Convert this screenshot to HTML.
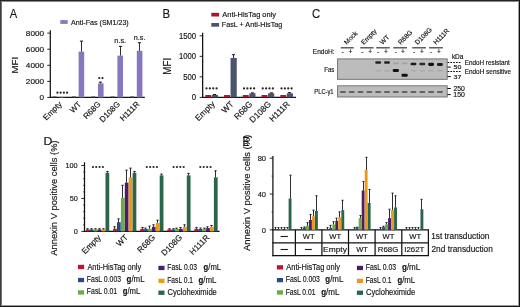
<!DOCTYPE html>
<html><head><meta charset="utf-8"><style>
html,body{margin:0;padding:0;background:#fff;}
#f{position:relative;width:520px;height:307px;overflow:hidden;background:#fff;}
svg{position:absolute;left:0;top:0;will-change:transform;}
text{font-family:"Liberation Sans", sans-serif;fill:#151515;stroke:#151515;stroke-width:0.16px;}
</style></head><body><div id="f">
<svg width="520" height="307" viewBox="0 0 520 307">
<text x="9.80" y="18.20" font-size="12.75" textLength="7.42" lengthAdjust="spacingAndGlyphs">A</text>
<rect x="60.30" y="20.10" width="7.40" height="3.80" fill="#8878c2"/>
<text x="71.10" y="24.90" font-size="7.39" textLength="57.65" lengthAdjust="spacingAndGlyphs">Anti-Fas (SM1/23)</text>
<line x1="50.30" y1="30.20" x2="50.30" y2="98.05" stroke="#111" stroke-width="1.25"/>
<line x1="49.70" y1="97.45" x2="144.80" y2="97.45" stroke="#111" stroke-width="1.25"/>
<line x1="47.30" y1="33.10" x2="50.30" y2="33.10" stroke="#111" stroke-width="0.9"/>
<text x="44.08" y="35.68" font-size="7.46" text-anchor="end" textLength="18.20" lengthAdjust="spacingAndGlyphs">8000</text>
<line x1="47.30" y1="49.19" x2="50.30" y2="49.19" stroke="#111" stroke-width="0.9"/>
<text x="44.08" y="51.76" font-size="7.46" text-anchor="end" textLength="18.20" lengthAdjust="spacingAndGlyphs">6000</text>
<line x1="47.30" y1="65.28" x2="50.30" y2="65.28" stroke="#111" stroke-width="0.9"/>
<text x="44.08" y="67.85" font-size="7.46" text-anchor="end" textLength="18.20" lengthAdjust="spacingAndGlyphs">4000</text>
<line x1="47.30" y1="81.36" x2="50.30" y2="81.36" stroke="#111" stroke-width="0.9"/>
<text x="44.08" y="83.94" font-size="7.46" text-anchor="end" textLength="18.20" lengthAdjust="spacingAndGlyphs">2000</text>
<line x1="47.30" y1="97.45" x2="50.30" y2="97.45" stroke="#111" stroke-width="0.9"/>
<text x="44.10" y="100.03" font-size="7.46" text-anchor="end" textLength="4.55" lengthAdjust="spacingAndGlyphs">0</text>
<text x="17.70" y="73.48" font-size="9.57" textLength="16.77" lengthAdjust="spacingAndGlyphs" transform="rotate(-90 17.70 73.48)">MFI</text>
<rect x="52.50" y="96.45" width="4.00" height="1.00" fill="#444"/>
<rect x="59.20" y="96.85" width="5.60" height="0.60" fill="#8777c1"/>
<text x="62.40" y="104.70" font-size="8.00" text-anchor="end" transform="rotate(-45 62.40 104.70)">Empty</text>
<rect x="71.90" y="96.45" width="4.00" height="1.00" fill="#444"/>
<rect x="78.60" y="51.60" width="5.60" height="45.85" fill="#8777c1"/>
<line x1="81.50" y1="51.60" x2="81.50" y2="41.14" stroke="#161616" stroke-width="0.9"/>
<line x1="79.90" y1="41.14" x2="83.10" y2="41.14" stroke="#161616" stroke-width="1.0"/>
<text x="81.80" y="104.70" font-size="8.00" text-anchor="end" transform="rotate(-45 81.80 104.70)">WT</text>
<rect x="91.30" y="96.45" width="4.00" height="1.00" fill="#444"/>
<rect x="98.00" y="83.37" width="5.60" height="14.08" fill="#8777c1"/>
<line x1="100.50" y1="83.37" x2="100.50" y2="82.17" stroke="#161616" stroke-width="0.9"/>
<line x1="98.90" y1="82.17" x2="102.10" y2="82.17" stroke="#161616" stroke-width="1.0"/>
<text x="101.20" y="104.70" font-size="8.00" text-anchor="end" transform="rotate(-45 101.20 104.70)">R68G</text>
<rect x="110.70" y="96.45" width="4.00" height="1.00" fill="#444"/>
<rect x="117.40" y="55.62" width="5.60" height="41.83" fill="#8777c1"/>
<line x1="120.50" y1="55.62" x2="120.50" y2="46.37" stroke="#161616" stroke-width="0.9"/>
<line x1="118.90" y1="46.37" x2="122.10" y2="46.37" stroke="#161616" stroke-width="1.0"/>
<text x="120.60" y="104.70" font-size="8.00" text-anchor="end" transform="rotate(-45 120.60 104.70)">D108G</text>
<rect x="130.10" y="96.45" width="4.00" height="1.00" fill="#444"/>
<rect x="136.80" y="50.80" width="5.60" height="46.65" fill="#8777c1"/>
<line x1="139.50" y1="50.80" x2="139.50" y2="42.75" stroke="#161616" stroke-width="0.9"/>
<line x1="137.90" y1="42.75" x2="141.10" y2="42.75" stroke="#161616" stroke-width="1.0"/>
<text x="140.00" y="104.70" font-size="8.00" text-anchor="end" transform="rotate(-45 140.00 104.70)">H111R</text>
<circle cx="57.40" cy="92.65" r="1.1" fill="#262626"/>
<circle cx="60.63" cy="92.65" r="1.1" fill="#262626"/>
<circle cx="63.87" cy="92.65" r="1.1" fill="#262626"/>
<circle cx="67.10" cy="92.65" r="1.1" fill="#262626"/>
<circle cx="99.30" cy="78.10" r="1.1" fill="#262626"/>
<circle cx="102.50" cy="78.10" r="1.1" fill="#262626"/>
<text x="114.32" y="42.93" font-size="7.45" textLength="11.85" lengthAdjust="spacingAndGlyphs">n.s.</text>
<text x="133.83" y="40.12" font-size="7.82" textLength="11.63" lengthAdjust="spacingAndGlyphs">n.s.</text>
<text x="162.39" y="18.00" font-size="12.17" textLength="7.61" lengthAdjust="spacingAndGlyphs">B</text>
<rect x="211.30" y="12.80" width="7.80" height="3.70" fill="#b0122e"/>
<text x="222.30" y="16.90" font-size="7.25" textLength="53.70" lengthAdjust="spacingAndGlyphs">Anti-HisTag only</text>
<rect x="211.30" y="23.00" width="7.80" height="3.70" fill="#4b546e"/>
<text x="221.72" y="27.10" font-size="7.25" textLength="60.57" lengthAdjust="spacingAndGlyphs">FasL + Anti-HisTag</text>
<line x1="202.65" y1="32.80" x2="202.65" y2="98.00" stroke="#111" stroke-width="1.25"/>
<line x1="202.05" y1="97.40" x2="296.00" y2="97.40" stroke="#111" stroke-width="1.25"/>
<line x1="199.65" y1="35.80" x2="202.65" y2="35.80" stroke="#111" stroke-width="0.9"/>
<text x="196.07" y="38.62" font-size="8.17" text-anchor="end" textLength="17.15" lengthAdjust="spacingAndGlyphs">1500</text>
<line x1="199.65" y1="56.33" x2="202.65" y2="56.33" stroke="#111" stroke-width="0.9"/>
<text x="196.07" y="59.15" font-size="8.17" text-anchor="end" textLength="17.15" lengthAdjust="spacingAndGlyphs">1000</text>
<line x1="199.65" y1="76.87" x2="202.65" y2="76.87" stroke="#111" stroke-width="0.9"/>
<text x="196.10" y="79.68" font-size="8.17" text-anchor="end" textLength="12.86" lengthAdjust="spacingAndGlyphs">500</text>
<line x1="199.65" y1="97.40" x2="202.65" y2="97.40" stroke="#111" stroke-width="0.9"/>
<text x="196.08" y="100.22" font-size="8.17" text-anchor="end" textLength="4.29" lengthAdjust="spacingAndGlyphs">0</text>
<text x="170.60" y="74.68" font-size="10.29" textLength="16.88" lengthAdjust="spacingAndGlyphs" transform="rotate(-90 170.60 74.68)">MFI</text>
<rect x="205.30" y="95.00" width="5.90" height="2.40" fill="#b3112f"/>
<rect x="211.80" y="94.94" width="6.20" height="2.46" fill="#4b546e"/>
<line x1="214.50" y1="94.94" x2="214.50" y2="94.53" stroke="#161616" stroke-width="0.9"/>
<line x1="212.90" y1="94.53" x2="216.10" y2="94.53" stroke="#161616" stroke-width="1.0"/>
<circle cx="206.50" cy="88.45" r="1.1" fill="#262626"/>
<circle cx="209.87" cy="88.45" r="1.1" fill="#262626"/>
<circle cx="213.23" cy="88.45" r="1.1" fill="#262626"/>
<circle cx="216.60" cy="88.45" r="1.1" fill="#262626"/>
<text x="215.40" y="104.60" font-size="8.40" text-anchor="end" transform="rotate(-45 215.40 104.60)">Empty</text>
<rect x="224.05" y="95.00" width="5.90" height="2.40" fill="#b3112f"/>
<rect x="230.55" y="57.98" width="6.20" height="39.42" fill="#4b546e"/>
<line x1="233.50" y1="57.98" x2="233.50" y2="54.69" stroke="#161616" stroke-width="0.9"/>
<line x1="231.90" y1="54.69" x2="235.10" y2="54.69" stroke="#161616" stroke-width="1.0"/>
<text x="234.15" y="104.60" font-size="8.40" text-anchor="end" transform="rotate(-45 234.15 104.60)">WT</text>
<rect x="242.80" y="95.00" width="5.90" height="2.40" fill="#b3112f"/>
<rect x="249.30" y="93.29" width="6.20" height="4.11" fill="#4b546e"/>
<line x1="252.50" y1="93.29" x2="252.50" y2="92.88" stroke="#161616" stroke-width="0.9"/>
<line x1="250.90" y1="92.88" x2="254.10" y2="92.88" stroke="#161616" stroke-width="1.0"/>
<circle cx="244.00" cy="88.45" r="1.1" fill="#262626"/>
<circle cx="247.37" cy="88.45" r="1.1" fill="#262626"/>
<circle cx="250.73" cy="88.45" r="1.1" fill="#262626"/>
<circle cx="254.10" cy="88.45" r="1.1" fill="#262626"/>
<text x="252.90" y="104.60" font-size="8.40" text-anchor="end" transform="rotate(-45 252.90 104.60)">R68G</text>
<rect x="261.55" y="95.00" width="5.90" height="2.40" fill="#b3112f"/>
<rect x="268.05" y="93.29" width="6.20" height="4.11" fill="#4b546e"/>
<line x1="271.50" y1="93.29" x2="271.50" y2="92.88" stroke="#161616" stroke-width="0.9"/>
<line x1="269.90" y1="92.88" x2="273.10" y2="92.88" stroke="#161616" stroke-width="1.0"/>
<circle cx="262.75" cy="88.45" r="1.1" fill="#262626"/>
<circle cx="266.12" cy="88.45" r="1.1" fill="#262626"/>
<circle cx="269.48" cy="88.45" r="1.1" fill="#262626"/>
<circle cx="272.85" cy="88.45" r="1.1" fill="#262626"/>
<text x="271.65" y="104.60" font-size="8.40" text-anchor="end" transform="rotate(-45 271.65 104.60)">D108G</text>
<rect x="280.30" y="95.00" width="5.90" height="2.40" fill="#b3112f"/>
<rect x="286.80" y="93.29" width="6.20" height="4.11" fill="#4b546e"/>
<line x1="289.50" y1="93.29" x2="289.50" y2="92.68" stroke="#161616" stroke-width="0.9"/>
<line x1="287.90" y1="92.68" x2="291.10" y2="92.68" stroke="#161616" stroke-width="1.0"/>
<circle cx="281.50" cy="88.45" r="1.1" fill="#262626"/>
<circle cx="284.87" cy="88.45" r="1.1" fill="#262626"/>
<circle cx="288.23" cy="88.45" r="1.1" fill="#262626"/>
<circle cx="291.60" cy="88.45" r="1.1" fill="#262626"/>
<text x="290.40" y="104.60" font-size="8.40" text-anchor="end" transform="rotate(-45 290.40 104.60)">H111R</text>
<text x="312.03" y="18.27" font-size="12.82" textLength="8.19" lengthAdjust="spacingAndGlyphs">C</text>
<line x1="340.70" y1="47.80" x2="353.70" y2="47.80" stroke="#444" stroke-width="1.3"/>
<text x="346.80" y="45.00" font-size="6.60" transform="rotate(-45 346.80 45.00)">Mock</text>
<line x1="360.20" y1="47.80" x2="373.60" y2="47.80" stroke="#444" stroke-width="1.3"/>
<text x="363.80" y="45.00" font-size="6.60" transform="rotate(-45 363.80 45.00)">Empty</text>
<line x1="376.20" y1="47.80" x2="389.80" y2="47.80" stroke="#444" stroke-width="1.3"/>
<text x="382.60" y="45.00" font-size="6.60" transform="rotate(-45 382.60 45.00)">WT</text>
<line x1="393.30" y1="47.80" x2="407.00" y2="47.80" stroke="#444" stroke-width="1.3"/>
<text x="400.70" y="45.00" font-size="6.60" transform="rotate(-45 400.70 45.00)">R68G</text>
<line x1="412.20" y1="47.80" x2="425.90" y2="47.80" stroke="#444" stroke-width="1.3"/>
<text x="417.60" y="45.00" font-size="6.60" transform="rotate(-45 417.60 45.00)">D108G</text>
<line x1="429.10" y1="47.80" x2="442.80" y2="47.80" stroke="#444" stroke-width="1.3"/>
<text x="435.90" y="45.00" font-size="6.60" transform="rotate(-45 435.90 45.00)">H111R</text>
<text x="342.60" y="53.60" font-size="6.60" text-anchor="middle">-</text>
<text x="350.40" y="53.60" font-size="6.60" text-anchor="middle">+</text>
<text x="362.40" y="53.60" font-size="6.60" text-anchor="middle">-</text>
<text x="370.20" y="53.60" font-size="6.60" text-anchor="middle">+</text>
<text x="378.20" y="53.60" font-size="6.60" text-anchor="middle">-</text>
<text x="385.90" y="53.60" font-size="6.60" text-anchor="middle">+</text>
<text x="395.90" y="53.60" font-size="6.60" text-anchor="middle">-</text>
<text x="403.00" y="53.60" font-size="6.60" text-anchor="middle">+</text>
<text x="414.10" y="53.60" font-size="6.60" text-anchor="middle">-</text>
<text x="421.90" y="53.60" font-size="6.60" text-anchor="middle">+</text>
<text x="431.10" y="53.60" font-size="6.60" text-anchor="middle">-</text>
<text x="438.90" y="53.60" font-size="6.60" text-anchor="middle">+</text>
<text x="312.77" y="53.63" font-size="6.67" textLength="21.92" lengthAdjust="spacingAndGlyphs">EndoH:</text>
<text x="324.21" y="72.33" font-size="7.14" textLength="10.22" lengthAdjust="spacingAndGlyphs">Fas</text>
<text x="314.34" y="94.10" font-size="6.96" textLength="19.22" lengthAdjust="spacingAndGlyphs">PLC-γ1</text>
<rect x="337.6" y="58.9" width="109.6" height="20.4" fill="#bcbcbc" stroke="#6a6a6a" stroke-width="0.9"/>
<rect x="337.6" y="85.8" width="109.6" height="11.2" fill="#bcbcbc" stroke="#6a6a6a" stroke-width="0.9"/>
<rect x="375.28" y="61.25" width="5.80" height="2.50" rx="1.00" fill="#111" opacity="0.9"/>
<rect x="384.10" y="61.25" width="5.80" height="2.50" rx="1.00" fill="#111" opacity="0.9"/>
<rect x="392.92" y="62.60" width="5.80" height="1.60" rx="0.64" fill="#111" opacity="0.15"/>
<rect x="401.74" y="62.60" width="5.80" height="1.60" rx="0.64" fill="#111" opacity="0.15"/>
<rect x="410.56" y="62.65" width="5.80" height="2.50" rx="1.00" fill="#111" opacity="0.95"/>
<rect x="419.38" y="62.85" width="5.80" height="2.30" rx="0.92" fill="#111" opacity="0.85"/>
<rect x="428.20" y="62.70" width="5.80" height="3.20" rx="1.28" fill="#111" opacity="1.0"/>
<rect x="437.02" y="63.10" width="5.80" height="2.80" rx="1.12" fill="#111" opacity="0.92"/>
<rect x="392.72" y="68.90" width="6.20" height="3.00" rx="1.20" fill="#111" opacity="1.0"/>
<rect x="401.54" y="73.80" width="6.20" height="3.00" rx="1.20" fill="#111" opacity="1.0"/>
<rect x="375.38" y="70.10" width="5.60" height="1.40" rx="0.56" fill="#111" opacity="0.1"/>
<rect x="384.20" y="70.10" width="5.60" height="1.40" rx="0.56" fill="#111" opacity="0.1"/>
<rect x="410.66" y="70.10" width="5.60" height="1.40" rx="0.56" fill="#111" opacity="0.1"/>
<rect x="419.48" y="70.10" width="5.60" height="1.40" rx="0.56" fill="#111" opacity="0.1"/>
<rect x="428.30" y="70.10" width="5.60" height="1.40" rx="0.56" fill="#111" opacity="0.1"/>
<rect x="437.12" y="70.10" width="5.60" height="1.40" rx="0.56" fill="#111" opacity="0.1"/>
<rect x="339.90" y="90.90" width="6.00" height="2.00" rx="0.80" fill="#111" opacity="0.52"/>
<rect x="348.72" y="90.90" width="6.00" height="2.00" rx="0.80" fill="#111" opacity="0.52"/>
<rect x="357.54" y="90.90" width="6.00" height="2.00" rx="0.80" fill="#111" opacity="0.52"/>
<rect x="366.36" y="90.90" width="6.00" height="2.00" rx="0.80" fill="#111" opacity="0.52"/>
<rect x="375.18" y="90.90" width="6.00" height="2.00" rx="0.80" fill="#111" opacity="0.52"/>
<rect x="384.00" y="90.90" width="6.00" height="2.00" rx="0.80" fill="#111" opacity="0.52"/>
<rect x="392.82" y="90.90" width="6.00" height="2.00" rx="0.80" fill="#111" opacity="0.52"/>
<rect x="401.64" y="90.90" width="6.00" height="2.00" rx="0.80" fill="#111" opacity="0.52"/>
<rect x="410.46" y="90.90" width="6.00" height="2.00" rx="0.80" fill="#111" opacity="0.52"/>
<rect x="419.28" y="90.90" width="6.00" height="2.00" rx="0.80" fill="#111" opacity="0.52"/>
<rect x="428.10" y="90.90" width="6.00" height="2.00" rx="0.80" fill="#111" opacity="0.52"/>
<rect x="436.92" y="90.90" width="6.00" height="2.00" rx="0.80" fill="#111" opacity="0.52"/>
<line x1="447.6" y1="62.5" x2="461" y2="62.5" stroke="#111" stroke-width="1.0" stroke-dasharray="1.7,1.1"/>
<line x1="447.6" y1="71.5" x2="461" y2="71.5" stroke="#111" stroke-width="1.0" stroke-dasharray="1.7,1.1"/>
<line x1="447.40" y1="67.10" x2="450.80" y2="67.10" stroke="#111" stroke-width="1.0"/>
<line x1="447.40" y1="76.60" x2="450.80" y2="76.60" stroke="#111" stroke-width="1.0"/>
<line x1="447.40" y1="88.50" x2="450.80" y2="88.50" stroke="#111" stroke-width="1.0"/>
<line x1="447.40" y1="94.60" x2="450.80" y2="94.60" stroke="#111" stroke-width="1.0"/>
<text x="451.88" y="58.83" font-size="6.67" textLength="11.54" lengthAdjust="spacingAndGlyphs">kDa</text>
<text x="453.62" y="69.14" font-size="5.63" textLength="7.74" lengthAdjust="spacingAndGlyphs">50</text>
<text x="453.62" y="78.64" font-size="5.92" textLength="7.85" lengthAdjust="spacingAndGlyphs">37</text>
<text x="453.46" y="90.93" font-size="6.76" textLength="11.41" lengthAdjust="spacingAndGlyphs">250</text>
<text x="453.28" y="96.93" font-size="6.62" textLength="11.59" lengthAdjust="spacingAndGlyphs">150</text>
<text x="464.69" y="64.90" font-size="6.67" textLength="45.17" lengthAdjust="spacingAndGlyphs">EndoH resistant</text>
<text x="464.69" y="73.70" font-size="6.67" textLength="46.41" lengthAdjust="spacingAndGlyphs">EndoH sensitive</text>
<text x="43.62" y="145.30" font-size="11.16" textLength="8.86" lengthAdjust="spacingAndGlyphs">D</text>
<text x="57.20" y="255.70" font-size="9.52" textLength="115.29" lengthAdjust="spacingAndGlyphs" transform="rotate(-90 57.20 255.70)">Annexin V positive cells (%)</text>
<line x1="84.50" y1="162.30" x2="84.50" y2="232.00" stroke="#111" stroke-width="1.25"/>
<line x1="83.90" y1="231.40" x2="219.50" y2="231.40" stroke="#111" stroke-width="1.25"/>
<line x1="81.30" y1="165.50" x2="84.50" y2="165.50" stroke="#111" stroke-width="0.9"/>
<text x="77.68" y="168.08" font-size="7.46" text-anchor="end" textLength="12.23" lengthAdjust="spacingAndGlyphs">100</text>
<line x1="83.20" y1="172.09" x2="84.50" y2="172.09" stroke="#111" stroke-width="0.8"/>
<line x1="83.20" y1="178.68" x2="84.50" y2="178.68" stroke="#111" stroke-width="0.8"/>
<line x1="83.20" y1="185.27" x2="84.50" y2="185.27" stroke="#111" stroke-width="0.8"/>
<line x1="83.20" y1="191.86" x2="84.50" y2="191.86" stroke="#111" stroke-width="0.8"/>
<line x1="81.30" y1="198.45" x2="84.50" y2="198.45" stroke="#111" stroke-width="0.9"/>
<text x="77.87" y="201.03" font-size="7.46" text-anchor="end" textLength="8.15" lengthAdjust="spacingAndGlyphs">50</text>
<line x1="83.20" y1="205.04" x2="84.50" y2="205.04" stroke="#111" stroke-width="0.8"/>
<line x1="83.20" y1="211.63" x2="84.50" y2="211.63" stroke="#111" stroke-width="0.8"/>
<line x1="83.20" y1="218.22" x2="84.50" y2="218.22" stroke="#111" stroke-width="0.8"/>
<line x1="83.20" y1="224.81" x2="84.50" y2="224.81" stroke="#111" stroke-width="0.8"/>
<line x1="81.30" y1="231.40" x2="84.50" y2="231.40" stroke="#111" stroke-width="0.9"/>
<text x="77.87" y="233.98" font-size="7.46" text-anchor="end" textLength="4.08" lengthAdjust="spacingAndGlyphs">0</text>
<rect x="86.00" y="229.42" width="3.75" height="1.98" fill="#c3122f"/>
<line x1="87.50" y1="229.42" x2="87.50" y2="228.76" stroke="#161616" stroke-width="0.9"/>
<line x1="86.40" y1="228.76" x2="88.60" y2="228.76" stroke="#161616" stroke-width="1.0"/>
<rect x="89.90" y="229.42" width="3.75" height="1.98" fill="#274a8c"/>
<line x1="91.50" y1="229.42" x2="91.50" y2="228.76" stroke="#161616" stroke-width="0.9"/>
<line x1="90.40" y1="228.76" x2="92.60" y2="228.76" stroke="#161616" stroke-width="1.0"/>
<rect x="93.80" y="229.42" width="3.75" height="1.98" fill="#6aad3e"/>
<line x1="95.50" y1="229.42" x2="95.50" y2="228.76" stroke="#161616" stroke-width="0.9"/>
<line x1="94.40" y1="228.76" x2="96.60" y2="228.76" stroke="#161616" stroke-width="1.0"/>
<rect x="97.70" y="229.42" width="3.75" height="1.98" fill="#4b1d6c"/>
<line x1="99.50" y1="229.42" x2="99.50" y2="228.76" stroke="#161616" stroke-width="0.9"/>
<line x1="98.40" y1="228.76" x2="100.60" y2="228.76" stroke="#161616" stroke-width="1.0"/>
<rect x="101.60" y="229.42" width="3.75" height="1.98" fill="#eb9a1c"/>
<line x1="103.50" y1="229.42" x2="103.50" y2="228.76" stroke="#161616" stroke-width="0.9"/>
<line x1="102.40" y1="228.76" x2="104.60" y2="228.76" stroke="#161616" stroke-width="1.0"/>
<rect x="105.50" y="172.75" width="3.75" height="58.65" fill="#2c654c"/>
<line x1="107.50" y1="172.75" x2="107.50" y2="171.43" stroke="#161616" stroke-width="0.9"/>
<line x1="106.40" y1="171.43" x2="108.60" y2="171.43" stroke="#161616" stroke-width="1.0"/>
<circle cx="92.90" cy="167.00" r="1.1" fill="#262626"/>
<circle cx="96.23" cy="167.00" r="1.1" fill="#262626"/>
<circle cx="99.57" cy="167.00" r="1.1" fill="#262626"/>
<circle cx="102.90" cy="167.00" r="1.1" fill="#262626"/>
<text x="101.50" y="238.00" font-size="8.20" text-anchor="end" transform="rotate(-45 101.50 238.00)">Empty</text>
<rect x="113.10" y="228.76" width="3.75" height="2.64" fill="#c3122f"/>
<line x1="114.50" y1="228.76" x2="114.50" y2="226.79" stroke="#161616" stroke-width="0.9"/>
<line x1="113.40" y1="226.79" x2="115.60" y2="226.79" stroke="#161616" stroke-width="1.0"/>
<rect x="117.00" y="222.17" width="3.75" height="9.23" fill="#274a8c"/>
<line x1="118.50" y1="222.17" x2="118.50" y2="218.88" stroke="#161616" stroke-width="0.9"/>
<line x1="117.40" y1="218.88" x2="119.60" y2="218.88" stroke="#161616" stroke-width="1.0"/>
<rect x="120.90" y="197.79" width="3.75" height="33.61" fill="#6aad3e"/>
<line x1="122.50" y1="197.79" x2="122.50" y2="185.27" stroke="#161616" stroke-width="0.9"/>
<line x1="121.40" y1="185.27" x2="123.60" y2="185.27" stroke="#161616" stroke-width="1.0"/>
<rect x="124.80" y="182.63" width="3.75" height="48.77" fill="#4b1d6c"/>
<line x1="126.50" y1="182.63" x2="126.50" y2="170.11" stroke="#161616" stroke-width="0.9"/>
<line x1="125.40" y1="170.11" x2="127.60" y2="170.11" stroke="#161616" stroke-width="1.0"/>
<rect x="128.70" y="177.36" width="3.75" height="54.04" fill="#eb9a1c"/>
<line x1="130.50" y1="177.36" x2="130.50" y2="168.14" stroke="#161616" stroke-width="0.9"/>
<line x1="129.40" y1="168.14" x2="131.60" y2="168.14" stroke="#161616" stroke-width="1.0"/>
<rect x="132.60" y="172.75" width="3.75" height="58.65" fill="#2c654c"/>
<line x1="134.50" y1="172.75" x2="134.50" y2="171.43" stroke="#161616" stroke-width="0.9"/>
<line x1="133.40" y1="171.43" x2="135.60" y2="171.43" stroke="#161616" stroke-width="1.0"/>
<text x="128.60" y="238.00" font-size="8.20" text-anchor="end" transform="rotate(-45 128.60 238.00)">WT</text>
<rect x="140.20" y="228.76" width="3.75" height="2.64" fill="#c3122f"/>
<line x1="142.50" y1="228.76" x2="142.50" y2="227.45" stroke="#161616" stroke-width="0.9"/>
<line x1="141.40" y1="227.45" x2="143.60" y2="227.45" stroke="#161616" stroke-width="1.0"/>
<rect x="144.10" y="229.09" width="3.75" height="2.31" fill="#274a8c"/>
<line x1="145.50" y1="229.09" x2="145.50" y2="228.11" stroke="#161616" stroke-width="0.9"/>
<line x1="144.40" y1="228.11" x2="146.60" y2="228.11" stroke="#161616" stroke-width="1.0"/>
<rect x="148.00" y="228.76" width="3.75" height="2.64" fill="#6aad3e"/>
<line x1="149.50" y1="228.76" x2="149.50" y2="226.13" stroke="#161616" stroke-width="0.9"/>
<line x1="148.40" y1="226.13" x2="150.60" y2="226.13" stroke="#161616" stroke-width="1.0"/>
<rect x="151.90" y="226.79" width="3.75" height="4.61" fill="#4b1d6c"/>
<line x1="153.50" y1="226.79" x2="153.50" y2="224.81" stroke="#161616" stroke-width="0.9"/>
<line x1="152.40" y1="224.81" x2="154.60" y2="224.81" stroke="#161616" stroke-width="1.0"/>
<rect x="155.80" y="222.83" width="3.75" height="8.57" fill="#eb9a1c"/>
<line x1="157.50" y1="222.83" x2="157.50" y2="220.20" stroke="#161616" stroke-width="0.9"/>
<line x1="156.40" y1="220.20" x2="158.60" y2="220.20" stroke="#161616" stroke-width="1.0"/>
<rect x="159.70" y="175.38" width="3.75" height="56.02" fill="#2c654c"/>
<line x1="161.50" y1="175.38" x2="161.50" y2="174.07" stroke="#161616" stroke-width="0.9"/>
<line x1="160.40" y1="174.07" x2="162.60" y2="174.07" stroke="#161616" stroke-width="1.0"/>
<circle cx="146.80" cy="167.00" r="1.1" fill="#262626"/>
<circle cx="150.17" cy="167.00" r="1.1" fill="#262626"/>
<circle cx="153.53" cy="167.00" r="1.1" fill="#262626"/>
<circle cx="156.90" cy="167.00" r="1.1" fill="#262626"/>
<text x="155.70" y="238.00" font-size="8.20" text-anchor="end" transform="rotate(-45 155.70 238.00)">R68G</text>
<rect x="167.30" y="229.42" width="3.75" height="1.98" fill="#c3122f"/>
<line x1="169.50" y1="229.42" x2="169.50" y2="228.76" stroke="#161616" stroke-width="0.9"/>
<line x1="168.40" y1="228.76" x2="170.60" y2="228.76" stroke="#161616" stroke-width="1.0"/>
<rect x="171.20" y="229.42" width="3.75" height="1.98" fill="#274a8c"/>
<line x1="173.50" y1="229.42" x2="173.50" y2="228.76" stroke="#161616" stroke-width="0.9"/>
<line x1="172.40" y1="228.76" x2="174.60" y2="228.76" stroke="#161616" stroke-width="1.0"/>
<rect x="175.10" y="228.76" width="3.75" height="2.64" fill="#6aad3e"/>
<line x1="176.50" y1="228.76" x2="176.50" y2="228.11" stroke="#161616" stroke-width="0.9"/>
<line x1="175.40" y1="228.11" x2="177.60" y2="228.11" stroke="#161616" stroke-width="1.0"/>
<rect x="179.00" y="228.76" width="3.75" height="2.64" fill="#4b1d6c"/>
<line x1="180.50" y1="228.76" x2="180.50" y2="227.45" stroke="#161616" stroke-width="0.9"/>
<line x1="179.40" y1="227.45" x2="181.60" y2="227.45" stroke="#161616" stroke-width="1.0"/>
<rect x="182.90" y="226.79" width="3.75" height="4.61" fill="#eb9a1c"/>
<line x1="184.50" y1="226.79" x2="184.50" y2="224.81" stroke="#161616" stroke-width="0.9"/>
<line x1="183.40" y1="224.81" x2="185.60" y2="224.81" stroke="#161616" stroke-width="1.0"/>
<rect x="186.80" y="175.38" width="3.75" height="56.02" fill="#2c654c"/>
<line x1="188.50" y1="175.38" x2="188.50" y2="173.41" stroke="#161616" stroke-width="0.9"/>
<line x1="187.40" y1="173.41" x2="189.60" y2="173.41" stroke="#161616" stroke-width="1.0"/>
<circle cx="173.60" cy="167.00" r="1.1" fill="#262626"/>
<circle cx="176.97" cy="167.00" r="1.1" fill="#262626"/>
<circle cx="180.33" cy="167.00" r="1.1" fill="#262626"/>
<circle cx="183.70" cy="167.00" r="1.1" fill="#262626"/>
<text x="182.80" y="238.00" font-size="8.20" text-anchor="end" transform="rotate(-45 182.80 238.00)">D108G</text>
<rect x="194.40" y="228.76" width="3.75" height="2.64" fill="#c3122f"/>
<line x1="196.50" y1="228.76" x2="196.50" y2="227.45" stroke="#161616" stroke-width="0.9"/>
<line x1="195.40" y1="227.45" x2="197.60" y2="227.45" stroke="#161616" stroke-width="1.0"/>
<rect x="198.30" y="229.09" width="3.75" height="2.31" fill="#274a8c"/>
<line x1="200.50" y1="229.09" x2="200.50" y2="228.11" stroke="#161616" stroke-width="0.9"/>
<line x1="199.40" y1="228.11" x2="201.60" y2="228.11" stroke="#161616" stroke-width="1.0"/>
<rect x="202.20" y="228.76" width="3.75" height="2.64" fill="#6aad3e"/>
<line x1="204.50" y1="228.76" x2="204.50" y2="228.11" stroke="#161616" stroke-width="0.9"/>
<line x1="203.40" y1="228.11" x2="205.60" y2="228.11" stroke="#161616" stroke-width="1.0"/>
<rect x="206.10" y="228.11" width="3.75" height="3.29" fill="#4b1d6c"/>
<line x1="207.50" y1="228.11" x2="207.50" y2="226.79" stroke="#161616" stroke-width="0.9"/>
<line x1="206.40" y1="226.79" x2="208.60" y2="226.79" stroke="#161616" stroke-width="1.0"/>
<rect x="210.00" y="226.79" width="3.75" height="4.61" fill="#eb9a1c"/>
<line x1="211.50" y1="226.79" x2="211.50" y2="225.47" stroke="#161616" stroke-width="0.9"/>
<line x1="210.40" y1="225.47" x2="212.60" y2="225.47" stroke="#161616" stroke-width="1.0"/>
<rect x="213.90" y="177.36" width="3.75" height="54.04" fill="#2c654c"/>
<line x1="215.50" y1="177.36" x2="215.50" y2="170.77" stroke="#161616" stroke-width="0.9"/>
<line x1="214.40" y1="170.77" x2="216.60" y2="170.77" stroke="#161616" stroke-width="1.0"/>
<circle cx="200.30" cy="167.00" r="1.1" fill="#262626"/>
<circle cx="203.73" cy="167.00" r="1.1" fill="#262626"/>
<circle cx="207.17" cy="167.00" r="1.1" fill="#262626"/>
<circle cx="210.60" cy="167.00" r="1.1" fill="#262626"/>
<text x="209.90" y="238.00" font-size="8.20" text-anchor="end" transform="rotate(-45 209.90 238.00)">H111R</text>
<rect x="78.00" y="264.80" width="6.10" height="4.30" fill="#c3122f"/>
<text x="87.40" y="270.15" font-size="8.33" textLength="53.80" lengthAdjust="spacingAndGlyphs">Anti-HisTag only</text>
<rect x="78.00" y="277.90" width="6.10" height="4.30" fill="#274a8c"/>
<text x="86.85" y="282.45" font-size="8.33" textLength="34.24" lengthAdjust="spacingAndGlyphs">FasL 0.003</text>
<text x="126.58" y="282.45" font-size="8.33" textLength="17.99" lengthAdjust="spacingAndGlyphs"><tspan font-weight="bold">g</tspan>/mL</text>
<rect x="78.00" y="290.30" width="6.10" height="4.30" fill="#6aad3e"/>
<text x="86.85" y="294.25" font-size="8.33" textLength="30.36" lengthAdjust="spacingAndGlyphs">FasL 0.01</text>
<text x="122.68" y="294.25" font-size="8.33" textLength="17.58" lengthAdjust="spacingAndGlyphs"><tspan font-weight="bold">g</tspan>/mL</text>
<rect x="158.40" y="265.80" width="6.10" height="4.30" fill="#4b1d6c"/>
<text x="167.26" y="270.25" font-size="8.33" textLength="29.81" lengthAdjust="spacingAndGlyphs">FasL 0.03</text>
<text x="203.59" y="270.25" font-size="8.33" textLength="17.48" lengthAdjust="spacingAndGlyphs"><tspan font-weight="bold">g</tspan>/mL</text>
<rect x="158.40" y="278.70" width="6.10" height="4.30" fill="#eb9a1c"/>
<text x="167.27" y="282.65" font-size="8.33" textLength="25.73" lengthAdjust="spacingAndGlyphs">FasL 0.1</text>
<text x="198.48" y="282.65" font-size="8.33" textLength="17.99" lengthAdjust="spacingAndGlyphs"><tspan font-weight="bold">g</tspan>/mL</text>
<rect x="158.40" y="290.60" width="6.10" height="4.30" fill="#2c654c"/>
<text x="167.42" y="294.55" font-size="8.33" textLength="49.44" lengthAdjust="spacingAndGlyphs">Cycloheximide</text>
<text x="242.58" y="146.20" font-size="13.33" textLength="6.85" lengthAdjust="spacingAndGlyphs">E</text>
<text x="250.02" y="251.00" font-size="9.41" textLength="116.20" lengthAdjust="spacingAndGlyphs" transform="rotate(-90 250.02 251.00)">Annexin V positive cells (%)</text>
<line x1="272.90" y1="155.90" x2="272.90" y2="256.20" stroke="#111" stroke-width="1.25"/>
<line x1="272.30" y1="229.80" x2="429.00" y2="229.80" stroke="#111" stroke-width="1.25"/>
<line x1="269.70" y1="158.20" x2="272.90" y2="158.20" stroke="#111" stroke-width="0.9"/>
<text x="266.08" y="160.92" font-size="7.89" text-anchor="end" textLength="8.42" lengthAdjust="spacingAndGlyphs">80</text>
<line x1="271.60" y1="176.10" x2="272.90" y2="176.10" stroke="#111" stroke-width="0.8"/>
<line x1="269.70" y1="194.00" x2="272.90" y2="194.00" stroke="#111" stroke-width="0.9"/>
<text x="266.08" y="196.72" font-size="7.89" text-anchor="end" textLength="8.42" lengthAdjust="spacingAndGlyphs">40</text>
<line x1="271.60" y1="211.90" x2="272.90" y2="211.90" stroke="#111" stroke-width="0.8"/>
<line x1="269.70" y1="229.80" x2="272.90" y2="229.80" stroke="#111" stroke-width="0.9"/>
<text x="266.07" y="232.52" font-size="7.89" text-anchor="end" textLength="4.21" lengthAdjust="spacingAndGlyphs">0</text>
<line x1="295.40" y1="229.80" x2="295.40" y2="255.60" stroke="#111" stroke-width="1.25"/>
<line x1="321.90" y1="229.80" x2="321.90" y2="255.60" stroke="#111" stroke-width="1.25"/>
<line x1="348.50" y1="229.80" x2="348.50" y2="255.60" stroke="#111" stroke-width="1.25"/>
<line x1="375.10" y1="229.80" x2="375.10" y2="255.60" stroke="#111" stroke-width="1.25"/>
<line x1="401.80" y1="229.80" x2="401.80" y2="255.60" stroke="#111" stroke-width="1.25"/>
<line x1="428.40" y1="229.80" x2="428.40" y2="255.60" stroke="#111" stroke-width="1.25"/>
<line x1="272.30" y1="242.90" x2="429.00" y2="242.90" stroke="#111" stroke-width="1.25"/>
<line x1="272.30" y1="255.60" x2="429.00" y2="255.60" stroke="#111" stroke-width="1.25"/>
<rect x="273.60" y="229.08" width="2.90" height="0.72" fill="#c3122f"/>
<line x1="275.50" y1="229.08" x2="275.50" y2="227.65" stroke="#161616" stroke-width="0.9"/>
<line x1="274.50" y1="227.65" x2="276.50" y2="227.65" stroke="#161616" stroke-width="1.0"/>
<rect x="276.60" y="229.08" width="2.90" height="0.72" fill="#274a8c"/>
<line x1="278.50" y1="229.08" x2="278.50" y2="227.65" stroke="#161616" stroke-width="0.9"/>
<line x1="277.50" y1="227.65" x2="279.50" y2="227.65" stroke="#161616" stroke-width="1.0"/>
<rect x="279.60" y="229.08" width="2.90" height="0.72" fill="#6aad3e"/>
<line x1="281.50" y1="229.08" x2="281.50" y2="227.65" stroke="#161616" stroke-width="0.9"/>
<line x1="280.50" y1="227.65" x2="282.50" y2="227.65" stroke="#161616" stroke-width="1.0"/>
<rect x="282.60" y="229.08" width="2.90" height="0.72" fill="#4b1d6c"/>
<line x1="284.50" y1="229.08" x2="284.50" y2="227.65" stroke="#161616" stroke-width="0.9"/>
<line x1="283.50" y1="227.65" x2="285.50" y2="227.65" stroke="#161616" stroke-width="1.0"/>
<rect x="285.60" y="228.91" width="2.90" height="0.90" fill="#eb9a1c"/>
<line x1="287.50" y1="228.91" x2="287.50" y2="227.47" stroke="#161616" stroke-width="0.9"/>
<line x1="286.50" y1="227.47" x2="288.50" y2="227.47" stroke="#161616" stroke-width="1.0"/>
<rect x="288.60" y="198.47" width="2.90" height="31.33" fill="#2c654c"/>
<line x1="290.50" y1="198.47" x2="290.50" y2="175.20" stroke="#161616" stroke-width="0.9"/>
<line x1="289.50" y1="175.20" x2="291.50" y2="175.20" stroke="#161616" stroke-width="1.0"/>
<rect x="299.97" y="229.08" width="2.90" height="0.72" fill="#c3122f"/>
<line x1="301.50" y1="229.08" x2="301.50" y2="227.65" stroke="#161616" stroke-width="0.9"/>
<line x1="300.50" y1="227.65" x2="302.50" y2="227.65" stroke="#161616" stroke-width="1.0"/>
<rect x="302.97" y="227.56" width="2.90" height="2.24" fill="#274a8c"/>
<line x1="304.50" y1="227.56" x2="304.50" y2="226.94" stroke="#161616" stroke-width="0.9"/>
<line x1="303.50" y1="226.94" x2="305.50" y2="226.94" stroke="#161616" stroke-width="1.0"/>
<rect x="305.97" y="225.77" width="2.90" height="4.03" fill="#6aad3e"/>
<line x1="307.50" y1="225.77" x2="307.50" y2="222.64" stroke="#161616" stroke-width="0.9"/>
<line x1="306.50" y1="222.64" x2="308.50" y2="222.64" stroke="#161616" stroke-width="1.0"/>
<rect x="308.97" y="219.96" width="2.90" height="9.84" fill="#4b1d6c"/>
<line x1="310.50" y1="219.96" x2="310.50" y2="214.59" stroke="#161616" stroke-width="0.9"/>
<line x1="309.50" y1="214.59" x2="311.50" y2="214.59" stroke="#161616" stroke-width="1.0"/>
<rect x="311.97" y="216.38" width="2.90" height="13.43" fill="#eb9a1c"/>
<line x1="313.50" y1="216.38" x2="313.50" y2="210.11" stroke="#161616" stroke-width="0.9"/>
<line x1="312.50" y1="210.11" x2="314.50" y2="210.11" stroke="#161616" stroke-width="1.0"/>
<rect x="314.97" y="211.00" width="2.90" height="18.80" fill="#2c654c"/>
<line x1="316.50" y1="211.00" x2="316.50" y2="195.79" stroke="#161616" stroke-width="0.9"/>
<line x1="315.50" y1="195.79" x2="317.50" y2="195.79" stroke="#161616" stroke-width="1.0"/>
<rect x="326.34" y="229.08" width="2.90" height="0.72" fill="#c3122f"/>
<line x1="327.50" y1="229.08" x2="327.50" y2="227.65" stroke="#161616" stroke-width="0.9"/>
<line x1="326.50" y1="227.65" x2="328.50" y2="227.65" stroke="#161616" stroke-width="1.0"/>
<rect x="329.34" y="227.74" width="2.90" height="2.06" fill="#274a8c"/>
<line x1="330.50" y1="227.74" x2="330.50" y2="225.33" stroke="#161616" stroke-width="0.9"/>
<line x1="329.50" y1="225.33" x2="331.50" y2="225.33" stroke="#161616" stroke-width="1.0"/>
<rect x="332.34" y="224.43" width="2.90" height="5.37" fill="#6aad3e"/>
<line x1="333.50" y1="224.43" x2="333.50" y2="221.75" stroke="#161616" stroke-width="0.9"/>
<line x1="332.50" y1="221.75" x2="334.50" y2="221.75" stroke="#161616" stroke-width="1.0"/>
<rect x="335.34" y="220.85" width="2.90" height="8.95" fill="#4b1d6c"/>
<line x1="336.50" y1="220.85" x2="336.50" y2="218.17" stroke="#161616" stroke-width="0.9"/>
<line x1="335.50" y1="218.17" x2="337.50" y2="218.17" stroke="#161616" stroke-width="1.0"/>
<rect x="338.34" y="217.27" width="2.90" height="12.53" fill="#eb9a1c"/>
<line x1="339.50" y1="217.27" x2="339.50" y2="211.90" stroke="#161616" stroke-width="0.9"/>
<line x1="338.50" y1="211.90" x2="340.50" y2="211.90" stroke="#161616" stroke-width="1.0"/>
<rect x="341.34" y="210.11" width="2.90" height="19.69" fill="#2c654c"/>
<line x1="342.50" y1="210.11" x2="342.50" y2="200.27" stroke="#161616" stroke-width="0.9"/>
<line x1="341.50" y1="200.27" x2="343.50" y2="200.27" stroke="#161616" stroke-width="1.0"/>
<rect x="352.71" y="229.08" width="2.90" height="0.72" fill="#c3122f"/>
<line x1="354.50" y1="229.08" x2="354.50" y2="227.65" stroke="#161616" stroke-width="0.9"/>
<line x1="353.50" y1="227.65" x2="355.50" y2="227.65" stroke="#161616" stroke-width="1.0"/>
<rect x="355.71" y="226.67" width="2.90" height="3.13" fill="#274a8c"/>
<rect x="358.71" y="218.17" width="2.90" height="11.63" fill="#6aad3e"/>
<line x1="360.50" y1="218.17" x2="360.50" y2="215.48" stroke="#161616" stroke-width="0.9"/>
<line x1="359.50" y1="215.48" x2="361.50" y2="215.48" stroke="#161616" stroke-width="1.0"/>
<rect x="361.71" y="190.42" width="2.90" height="39.38" fill="#4b1d6c"/>
<line x1="363.50" y1="190.42" x2="363.50" y2="181.47" stroke="#161616" stroke-width="0.9"/>
<line x1="362.50" y1="181.47" x2="364.50" y2="181.47" stroke="#161616" stroke-width="1.0"/>
<rect x="364.71" y="169.83" width="2.90" height="59.97" fill="#eb9a1c"/>
<line x1="366.50" y1="169.83" x2="366.50" y2="157.31" stroke="#161616" stroke-width="0.9"/>
<line x1="365.50" y1="157.31" x2="367.50" y2="157.31" stroke="#161616" stroke-width="1.0"/>
<rect x="367.71" y="202.95" width="2.90" height="26.85" fill="#2c654c"/>
<line x1="369.50" y1="202.95" x2="369.50" y2="189.53" stroke="#161616" stroke-width="0.9"/>
<line x1="368.50" y1="189.53" x2="370.50" y2="189.53" stroke="#161616" stroke-width="1.0"/>
<rect x="379.08" y="229.08" width="2.90" height="0.72" fill="#c3122f"/>
<line x1="380.50" y1="229.08" x2="380.50" y2="227.65" stroke="#161616" stroke-width="0.9"/>
<line x1="379.50" y1="227.65" x2="381.50" y2="227.65" stroke="#161616" stroke-width="1.0"/>
<rect x="382.08" y="227.12" width="2.90" height="2.69" fill="#274a8c"/>
<line x1="383.50" y1="227.12" x2="383.50" y2="226.22" stroke="#161616" stroke-width="0.9"/>
<line x1="382.50" y1="226.22" x2="384.50" y2="226.22" stroke="#161616" stroke-width="1.0"/>
<rect x="385.08" y="224.43" width="2.90" height="5.37" fill="#6aad3e"/>
<line x1="386.50" y1="224.43" x2="386.50" y2="222.64" stroke="#161616" stroke-width="0.9"/>
<line x1="385.50" y1="222.64" x2="387.50" y2="222.64" stroke="#161616" stroke-width="1.0"/>
<rect x="388.08" y="218.17" width="2.90" height="11.63" fill="#4b1d6c"/>
<line x1="389.50" y1="218.17" x2="389.50" y2="209.22" stroke="#161616" stroke-width="0.9"/>
<line x1="388.50" y1="209.22" x2="390.50" y2="209.22" stroke="#161616" stroke-width="1.0"/>
<rect x="391.08" y="210.11" width="2.90" height="19.69" fill="#eb9a1c"/>
<line x1="392.50" y1="210.11" x2="392.50" y2="193.11" stroke="#161616" stroke-width="0.9"/>
<line x1="391.50" y1="193.11" x2="393.50" y2="193.11" stroke="#161616" stroke-width="1.0"/>
<rect x="394.08" y="207.43" width="2.90" height="22.38" fill="#2c654c"/>
<line x1="395.50" y1="207.43" x2="395.50" y2="195.79" stroke="#161616" stroke-width="0.9"/>
<line x1="394.50" y1="195.79" x2="396.50" y2="195.79" stroke="#161616" stroke-width="1.0"/>
<rect x="405.45" y="229.08" width="2.90" height="0.72" fill="#c3122f"/>
<line x1="406.50" y1="229.08" x2="406.50" y2="227.65" stroke="#161616" stroke-width="0.9"/>
<line x1="405.50" y1="227.65" x2="407.50" y2="227.65" stroke="#161616" stroke-width="1.0"/>
<rect x="408.45" y="229.08" width="2.90" height="0.72" fill="#274a8c"/>
<line x1="409.50" y1="229.08" x2="409.50" y2="227.65" stroke="#161616" stroke-width="0.9"/>
<line x1="408.50" y1="227.65" x2="410.50" y2="227.65" stroke="#161616" stroke-width="1.0"/>
<rect x="411.45" y="229.08" width="2.90" height="0.72" fill="#6aad3e"/>
<line x1="412.50" y1="229.08" x2="412.50" y2="227.65" stroke="#161616" stroke-width="0.9"/>
<line x1="411.50" y1="227.65" x2="413.50" y2="227.65" stroke="#161616" stroke-width="1.0"/>
<rect x="414.45" y="229.08" width="2.90" height="0.72" fill="#4b1d6c"/>
<line x1="415.50" y1="229.08" x2="415.50" y2="227.65" stroke="#161616" stroke-width="0.9"/>
<line x1="414.50" y1="227.65" x2="416.50" y2="227.65" stroke="#161616" stroke-width="1.0"/>
<rect x="417.45" y="229.08" width="2.90" height="0.72" fill="#eb9a1c"/>
<line x1="418.50" y1="229.08" x2="418.50" y2="227.65" stroke="#161616" stroke-width="0.9"/>
<line x1="417.50" y1="227.65" x2="419.50" y2="227.65" stroke="#161616" stroke-width="1.0"/>
<rect x="420.45" y="209.22" width="2.90" height="20.59" fill="#2c654c"/>
<line x1="421.50" y1="209.22" x2="421.50" y2="199.37" stroke="#161616" stroke-width="0.9"/>
<line x1="420.50" y1="199.37" x2="422.50" y2="199.37" stroke="#161616" stroke-width="1.0"/>
<line x1="280.60" y1="236.50" x2="287.90" y2="236.50" stroke="#1a1a1a" stroke-width="1.1"/>
<text x="308.71" y="238.80" font-size="7.68" text-anchor="middle" textLength="11.79" lengthAdjust="spacingAndGlyphs">WT</text>
<text x="335.26" y="238.80" font-size="7.68" text-anchor="middle" textLength="11.79" lengthAdjust="spacingAndGlyphs">WT</text>
<text x="361.86" y="238.80" font-size="7.68" text-anchor="middle" textLength="11.79" lengthAdjust="spacingAndGlyphs">WT</text>
<text x="388.51" y="238.80" font-size="7.68" text-anchor="middle" textLength="11.79" lengthAdjust="spacingAndGlyphs">WT</text>
<text x="415.16" y="238.80" font-size="7.68" text-anchor="middle" textLength="11.79" lengthAdjust="spacingAndGlyphs">WT</text>
<line x1="280.60" y1="249.50" x2="287.90" y2="249.50" stroke="#1a1a1a" stroke-width="1.1"/>
<line x1="304.90" y1="249.50" x2="311.90" y2="249.50" stroke="#1a1a1a" stroke-width="1.1"/>
<text x="323.13" y="251.60" font-size="7.68" textLength="23.76" lengthAdjust="spacingAndGlyphs">Empty</text>
<text x="356.16" y="251.80" font-size="7.68" textLength="11.69" lengthAdjust="spacingAndGlyphs">WT</text>
<text x="377.88" y="251.73" font-size="7.46" textLength="20.39" lengthAdjust="spacingAndGlyphs">R68G</text>
<text x="404.29" y="251.73" font-size="7.46" textLength="20.08" lengthAdjust="spacingAndGlyphs">I262T</text>
<text x="431.28" y="239.20" font-size="8.26" textLength="58.15" lengthAdjust="spacingAndGlyphs">1st transduction</text>
<text x="431.49" y="251.90" font-size="8.84" textLength="61.35" lengthAdjust="spacingAndGlyphs">2nd transduction</text>
<rect x="276.90" y="265.20" width="6.10" height="4.30" fill="#c3122f"/>
<text x="286.30" y="270.15" font-size="8.33" textLength="53.70" lengthAdjust="spacingAndGlyphs">Anti-HisTag only</text>
<rect x="276.90" y="278.00" width="6.10" height="4.30" fill="#274a8c"/>
<text x="285.75" y="282.45" font-size="8.33" textLength="34.13" lengthAdjust="spacingAndGlyphs">FasL 0.003</text>
<text x="325.27" y="282.45" font-size="8.33" textLength="18.10" lengthAdjust="spacingAndGlyphs"><tspan font-weight="bold">g</tspan>/mL</text>
<rect x="276.90" y="290.30" width="6.10" height="4.30" fill="#6aad3e"/>
<text x="285.76" y="294.75" font-size="8.33" textLength="29.64" lengthAdjust="spacingAndGlyphs">FasL 0.01</text>
<text x="321.17" y="294.75" font-size="8.33" textLength="18.30" lengthAdjust="spacingAndGlyphs"><tspan font-weight="bold">g</tspan>/mL</text>
<rect x="356.90" y="265.80" width="6.10" height="4.30" fill="#4b1d6c"/>
<text x="365.75" y="270.25" font-size="8.33" textLength="30.33" lengthAdjust="spacingAndGlyphs">FasL 0.03</text>
<text x="401.97" y="270.25" font-size="8.33" textLength="18.30" lengthAdjust="spacingAndGlyphs"><tspan font-weight="bold">g</tspan>/mL</text>
<rect x="356.90" y="278.70" width="6.10" height="4.30" fill="#eb9a1c"/>
<text x="365.77" y="282.65" font-size="8.33" textLength="25.73" lengthAdjust="spacingAndGlyphs">FasL 0.1</text>
<text x="397.38" y="282.65" font-size="8.33" textLength="17.79" lengthAdjust="spacingAndGlyphs"><tspan font-weight="bold">g</tspan>/mL</text>
<rect x="356.90" y="290.60" width="6.10" height="4.30" fill="#2c654c"/>
<text x="365.92" y="294.55" font-size="8.33" textLength="49.34" lengthAdjust="spacingAndGlyphs">Cycloheximide</text>
<rect x="0" y="0" width="1" height="307" fill="#3e3e3e"/>
<rect x="1" y="0" width="1" height="307" fill="#707070"/>
<rect x="0" y="0" width="520" height="1" fill="#222"/>
<rect x="1" y="1" width="517" height="1" fill="#888"/>
<rect x="518" y="1" width="1" height="305" fill="#a0a0a0"/>
<rect x="519" y="0" width="1" height="307" fill="#111"/>
<rect x="1" y="305" width="518" height="1" fill="#9a9a9a"/>
<rect x="0" y="306" width="520" height="1" fill="#151515"/>
</svg></div></body></html>
